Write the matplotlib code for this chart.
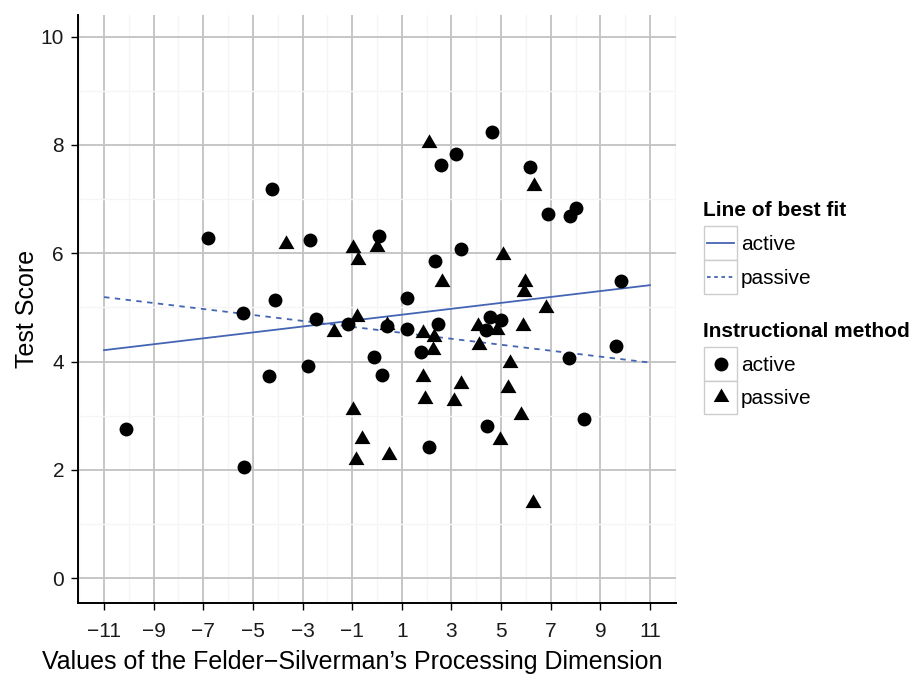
import numpy as np
import matplotlib
matplotlib.use("Agg")
import matplotlib.pyplot as plt
from matplotlib.patches import Rectangle
from matplotlib.lines import Line2D

plt.rcParams['font.family'] = ['Liberation Sans', 'DejaVu Sans']

# ---- data ----
active_x = [-10.12, -6.80, -4.24, -4.10, -5.39, -5.35, -4.35, -2.71, -2.77, -2.46,
            -1.18, 0.09, -0.13, 0.20, 1.20, 1.20, 1.77, 2.09, 2.34, 2.47,
            3.37, 2.58, 3.18, 4.65, 4.55, 4.98, 4.41, 4.45, 6.16, 6.90,
            7.78, 8.02, 9.83, 9.63, 7.75, 8.34, 0.41]
active_y = [2.75, 6.28, 7.18, 5.13, 4.89, 2.05, 3.73, 6.24, 3.92, 4.78,
            4.69, 6.32, 4.08, 3.75, 5.18, 4.60, 4.17, 2.42, 5.85, 4.69,
            6.08, 7.63, 7.84, 8.24, 4.83, 4.77, 4.59, 2.80, 7.59, 6.72,
            6.68, 6.83, 5.48, 4.28, 4.07, 2.93, 4.66]

passive_x = [-3.68, -0.96, -0.77, 0.01, 2.09, 2.63, -1.73, -0.82, 0.39, 1.87,
             2.31, 2.27, 4.08, 4.82, 4.10, 5.89, 5.36, 5.29, 5.80, 4.95,
             6.27, 3.37, 3.10, 1.87, 1.93, -0.98, -0.61, -0.85, 0.47, 5.06,
             5.96, 5.92, 6.82, 6.32]
passive_y = [6.17, 6.09, 5.88, 6.11, 8.03, 5.47, 4.54, 4.82, 4.68, 4.52,
             4.45, 4.22, 4.66, 4.58, 4.31, 4.65, 3.97, 3.51, 3.01, 2.55,
             1.39, 3.59, 3.27, 3.71, 3.31, 3.10, 2.56, 2.19, 2.27, 5.97,
             5.46, 5.29, 4.98, 7.24]

fit_x = [-11, 11]
fit_active = [4.21, 5.41]
fit_passive = [5.19, 3.98]

x_ticks = [-11, -9, -7, -5, -3, -1, 1, 3, 5, 7, 9, 11]
y_ticks = [0, 2, 4, 6, 8, 10]

line_color = '#4464B4'
tri = [(0, 1), (-0.866, -0.5), (0.866, -0.5)]

fig = plt.figure(figsize=(9.16, 6.79), dpi=100)
ax = fig.add_axes([78/916, 1-603/679, (676-78)/916, (603-15)/679])

ax.set_xlim(-12.05, 12.05)
ax.set_ylim(-0.46, 10.40)

ax.set_xticks(x_ticks)
ax.set_xticklabels([str(v).replace('-', '\u2212') for v in x_ticks])
ax.set_xticks(np.arange(-12, 13, 2), minor=True)
ax.set_yticks(y_ticks)
ax.set_yticks([1, 3, 5, 7, 9], minor=True)

ax.grid(True, which='major', color='#c2c2c2', linewidth=1.3, zorder=0)
ax.grid(True, which='minor', color='#f5f5f5', linewidth=1.0, zorder=0)
ax.set_axisbelow(True)

for s in ['top', 'right']:
    ax.spines[s].set_visible(False)
for s in ['left', 'bottom']:
    ax.spines[s].set_color('black')
    ax.spines[s].set_linewidth(1.4)

ax.tick_params(which='major', direction='out', length=5, width=1.0, color='black',
               labelsize=15, labelcolor='#1a1a1a', pad=5)
ax.tick_params(axis='x', which='major', pad=9)
ax.tick_params(which='minor', length=0)

ax.plot(fit_x, fit_active, color=line_color, lw=1.3, ls='-', zorder=2)
ax.plot(fit_x, fit_passive, color=line_color, lw=1.3, ls=(0, (3, 3)), zorder=2)

ax.scatter(active_x, active_y, s=100, marker='o', color='black', linewidths=0, zorder=3)
ax.scatter(passive_x, passive_y, s=175, marker=tri, color='black', linewidths=0, zorder=3)

ax.set_xlabel("Values of the Felder\u2212Silverman\u2019s Processing Dimension", fontsize=18,
              labelpad=6, x=(352 - 78) / 598)
ax.set_ylabel("Test Score", fontsize=18, labelpad=1)

# ---- legends (drawn manually in figure pixels) ----
W, H = 916, 679
def fx(px): return px / W
def fy(py): return 1 - py / H

kx0, kw, kh = 704, 33, 33.5
def key_box(ytop):
    fig.patches.append(Rectangle((fx(kx0), fy(ytop + kh)), kw / W, kh / H,
                                 transform=fig.transFigure, facecolor='white',
                                 edgecolor='#cccccc', linewidth=1.0))

fig.text(fx(703), fy(211), "Line of best fit", fontsize=15, fontweight='bold', va='center', ha='left')
labels = ["active", "passive"]
styles = ['-', (0, (2, 2))]
for i, (lab, st) in enumerate(zip(labels, styles)):
    top = 226.5 + i * kh
    key_box(top)
    yc = top + kh / 2
    fig.lines.append(Line2D([fx(kx0 + 3), fx(kx0 + kw - 3)], [fy(yc), fy(yc)],
                            transform=fig.transFigure, color=line_color, lw=1.3, ls=st))
    fig.text(fx(741), fy(yc + 1.5), lab, fontsize=15, va='center', ha='left')

fig.text(fx(703), fy(331), "Instructional method", fontsize=15, fontweight='bold', va='center', ha='left')
markers = ['o', tri]
msz = [10, 13]
for i, (lab, mk) in enumerate(zip(labels, markers)):
    top = 347 + i * kh
    key_box(top)
    yc = top + kh / 2
    fig.lines.append(Line2D([fx(kx0 + kw / 2)], [fy(yc)], transform=fig.transFigure,
                            marker=mk, markersize=msz[i], color='black', lw=0, markeredgewidth=0))
    fig.text(fx(741), fy(yc + 1.5), lab, fontsize=15, va='center', ha='left')

fig.savefig("out.png", dpi=100)
